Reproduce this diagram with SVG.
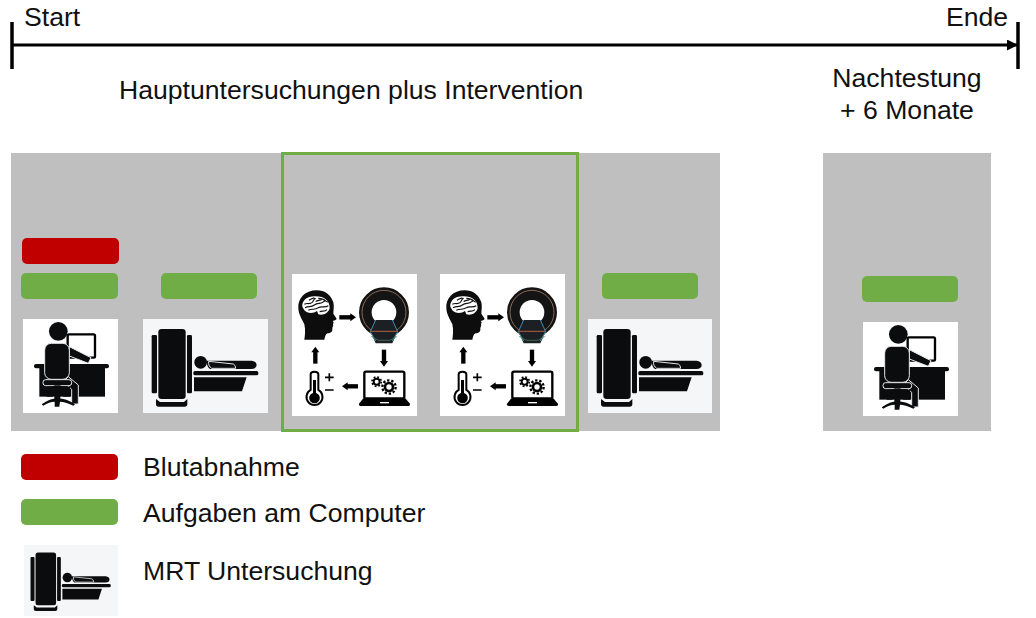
<svg xmlns="http://www.w3.org/2000/svg" width="1036" height="618" viewBox="0 0 1036 618">
<style>
text{font-family:"Liberation Sans",Arial,sans-serif;font-size:26.600px;fill:#111}
.bg{fill:#bfbfbf}
.red{fill:#c00000}
.green{fill:#70ad47}
.k{fill:#0b0c0e}
.ol{fill:#0b0c0e;stroke:#e8e8e8;stroke-width:3}
.ln{stroke:#000;fill:none}
.s{stroke:#000;fill:none;stroke-width:13;stroke-linecap:butt}
</style>
<defs>
<marker id="ah" markerWidth="11" markerHeight="11" refX="10" refY="5.500" orient="auto" markerUnits="userSpaceOnUse"><path d="M0 0L11 5.500L0 11Z" fill="#000"/></marker>
<g id="person">
<rect width="95" height="94" fill="#fff"/>
<g transform="scale(.3333) translate(-39,-267)">
<rect x="173" y="313" width="82" height="70" rx="4" class="ln" stroke-width="7"/>
<rect x="72" y="402" width="225" height="13" rx="6" class="k"/>
<rect x="88" y="414" width="197" height="86" class="k"/>
<path d="M178 350L243 383L235 400L178 378Z" class="ol"/>
<circle cx="145" cy="304" r="28" class="k"/>
<rect x="104" y="340" width="74" height="108" rx="20" class="ol"/>
<path d="M175 440L205 465V522H185V478L160 455Z" class="ol"/>
<rect x="99" y="449" width="86" height="18" rx="8" class="ol"/>
<rect x="133" y="466" width="18" height="45" class="k"/>
<path d="M148 467L180 470V500H160ZM136 467L110 470V500H128Z" class="k"/>
<path d="M95 523Q120 505 142 505Q170 505 195 523L190 527Q165 515 150 515L148 530H134L134 515Q118 515 100 527Z" class="k"/>
</g>
</g>
<g id="mri">
<g transform="scale(.3333) translate(-399,-267)">
<rect x="425" y="315" width="16" height="175" rx="4" class="k"/>
<rect x="531" y="315" width="15" height="175" rx="4" class="k"/>
<rect x="445" y="297" width="82" height="210" rx="10" class="k"/>
<path d="M438 507L450 516H522L532 507V522Q532 530 524 530H446Q438 530 438 522Z" class="k"/>
<circle cx="572" cy="397" r="19" class="k"/>
<path d="M590 392L725 392Q740 394 740 405Q740 416 725 417H600Q590 410 590 392Z" class="k"/>
<path d="M596 394L670 402Q677 405 677 415L605 415Q594 408 596 394Z" fill="none" stroke="#e8e8e8" stroke-width="3"/>
<rect x="550" y="423" width="195" height="13" rx="5" class="k"/>
<path d="M552 442H710L696 484H552Z" class="k"/>
</g>
</g>
<g id="loop">
<rect width="125" height="142" fill="#fff"/>
<g transform="scale(.3333) translate(-21,-27)">
<path d="M95 76C60 76 38 100 40 130C41 150 52 165 58 178C62 195 60 212 58 224H118C120 215 122 207 128 205C140 205 143 198 142 190C143 185 146 182 144 178L146 172L143 168C150 166 156 165 154 160L145 146C145 135 148 125 145 112C138 90 120 76 95 76Z" fill="#0d0d0d"/>
<path d="M52 125C50 108 65 93 92 94C118 94 135 108 134 130C130 145 115 152 100 148L96 138C85 147 65 145 58 136Z" fill="#fff"/>
<path d="M58 118C68 112 72 120 82 112C88 106 84 102 92 100M60 128C72 122 78 128 88 120C98 112 108 118 116 110C120 106 124 108 128 112M72 106C78 102 84 100 88 98M100 100C108 100 116 102 122 108M70 136C80 130 90 136 100 128C110 122 118 130 130 122M104 140C112 136 118 142 126 134M92 110C98 104 104 108 112 102" fill="none" stroke="#111" stroke-width="3.500"/>
<circle cx="297" cy="142" r="56" fill="none" stroke="#141414" stroke-width="38"/>
<circle cx="297" cy="142" r="66" fill="none" stroke="#8a6a58" stroke-width="3"/>
<path d="M272 165H322L338 200L322 235H272L256 200Z" fill="#1c2024"/>
<path d="M272 165L256 200L272 228M322 165L338 200L322 228" fill="none" stroke="#3d8fb5" stroke-width="3"/>
<path d="M256 199H338" stroke="#b5603a" stroke-width="3"/>
<path d="M258 214L280 226H315L337 214" fill="none" stroke="#4c8a5a" stroke-width="2"/>
<path d="M163 157H198" class="s"/><path d="M196 145L213 157L196 169Z"/>
<path d="M297 254V290" class="s"/><path d="M285 288L297 305L309 288Z"/>
<path d="M219 364H186" class="s"/><path d="M188 352L171 364L188 376Z"/>
<path d="M91 296V260" class="s"/><path d="M79 262L91 245L103 262Z"/>
<path d="M77 375V328Q77 320 88 320Q100 320 100 328V375A24 24 0 1 1 77 375Z" fill="#fff" stroke="#000" stroke-width="6"/>
<rect x="84" y="345" width="9" height="40" fill="#000"/><circle cx="88.500" cy="399" r="16" fill="#000"/>
<path d="M120 337H146M133 325V349M120 375H146" stroke="#000" stroke-width="5" fill="none"/>
<rect x="238" y="320" width="120" height="80" rx="5" class="ln" stroke-width="7"/>
<path d="M235 400H361L375 416Q376 423 368 423H229Q221 423 222 416Z" fill="#000"/>
<rect x="285" y="411" width="27" height="4" fill="#fff"/>
<circle cx="275" cy="350" r="9" fill="none" stroke="#000" stroke-width="6"/><circle cx="275" cy="350" r="14" fill="none" stroke="#000" stroke-width="5" stroke-dasharray="5.500 5.500"/>
<circle cx="312" cy="366" r="12" fill="none" stroke="#000" stroke-width="8"/><circle cx="312" cy="366" r="20" fill="none" stroke="#000" stroke-width="7" stroke-dasharray="7 5.570"/>
</g>
</g>
</defs>
<g id="connectors">
<path d="M12 45H1017" stroke="#000" stroke-width="3" fill="none" marker-end="url(#ah)"/>
</g>
<g id="timeline">
<path d="M12 22V69M1018 22V69" stroke="#000" stroke-width="3.500" fill="none"/>
<text x="24" y="26">Start</text>
<text x="946" y="26">Ende</text>
<text x="119" y="99">Hauptuntersuchungen plus Intervention</text>
<text x="907" y="87" text-anchor="middle">Nachtestung</text>
<text x="907" y="119" text-anchor="middle">+ 6 Monate</text>
</g>
<g id="phase-main"><rect x="11" y="153" width="709" height="278" class="bg"/></g>
<g id="phase-followup"><rect x="823" y="153" width="168" height="278" class="bg"/></g>
<g id="intervention-frame"><rect x="282.500" y="153.500" width="295" height="277" fill="none" stroke="#70ad47" stroke-width="3"/></g>
<g id="session-1">
<rect x="22" y="238" width="97" height="26" rx="5" class="red"/>
<rect x="21" y="273" width="97" height="26" rx="5" class="green"/>
<use href="#person" x="23" y="319"/>
</g>
<g id="session-2">
<rect x="161" y="273" width="96" height="26" rx="5" class="green"/>
<rect x="143" y="319" width="125" height="94" fill="#f5f6f8"/>
<use href="#mri" x="143" y="319"/>
</g>
<g id="loop-1"><use href="#loop" x="292" y="274"/></g>
<g id="loop-2"><use href="#loop" x="440" y="274"/></g>
<g id="session-3">
<rect x="602" y="273" width="96" height="26" rx="5" class="green"/>
<rect x="588" y="319" width="124" height="94" fill="#f5f6f8"/>
<use href="#mri" x="588" y="319"/>
</g>
<g id="session-4">
<rect x="862" y="276" width="96" height="26" rx="5" class="green"/>
<use href="#person" x="863" y="322"/>
</g>
<g id="legend-blood">
<rect x="21" y="454" width="97" height="26" rx="5" class="red"/>
<text x="143" y="476">Blutabnahme</text>
</g>
<g id="legend-tasks">
<rect x="21" y="499" width="97" height="26" rx="5" class="green"/>
<text x="143" y="522">Aufgaben am Computer</text>
</g>
<g id="legend-mri">
<rect x="24" y="545" width="94" height="71" fill="#f5f6f8"/>
<use href="#mri" transform="translate(24,545) scale(.752)"/>
<text x="143" y="580">MRT Untersuchung</text>
</g>
</svg>
